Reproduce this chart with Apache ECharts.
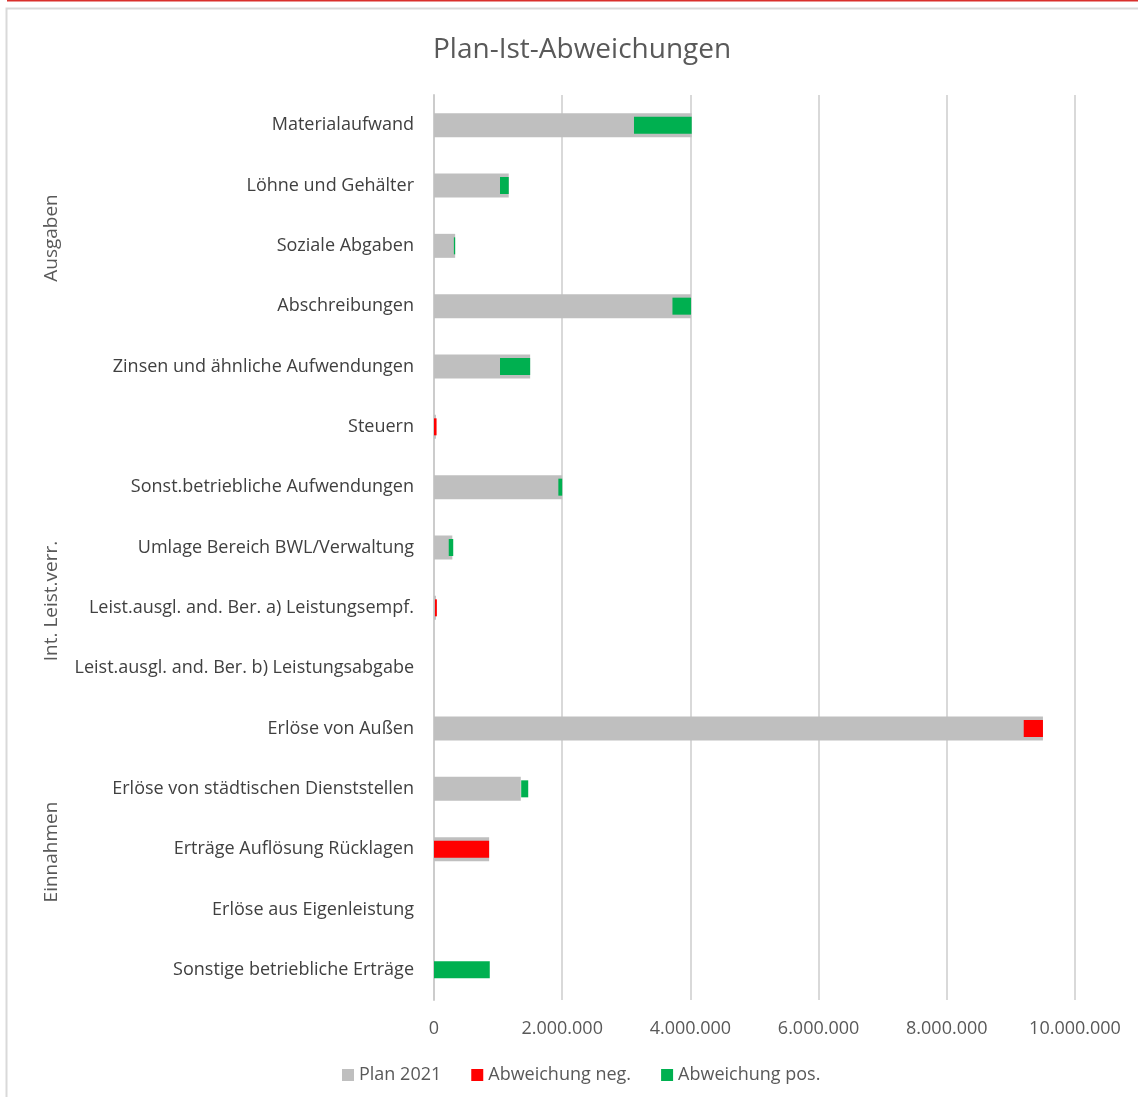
<!DOCTYPE html>
<html>
<head>
<meta charset="utf-8">
<script src="https://cdn.jsdelivr.net/npm/echarts@6/dist/echarts.min.js"></script>
<style>
html,body{margin:0;padding:0;background:#fff;}
#main{width:1138px;height:1097px;}
</style>
</head>
<body>
<div id="main"></div>
<script>
var categories = ['Materialaufwand', 'Löhne und Gehälter', 'Soziale Abgaben', 'Abschreibungen',
	'Zinsen und ähnliche Aufwendungen', 'Steuern', 'Sonst.betriebliche Aufwendungen',
	'Umlage Bereich BWL/Verwaltung', 'Leist.ausgl. and. Ber. a) Leistungsempf.',
	'Leist.ausgl. and. Ber. b) Leistungsabgabe', 'Erlöse von Außen',
	'Erlöse von städtischen Dienststellen', 'Erträge Auflösung Rücklagen',
	'Erlöse aus Eigenleistung', 'Sonstige betriebliche Erträge'];
var plan = [4020000, 1166000, 330000, 4010000, 1500000, 30000, 2000000, 286000, 30000, 0, 9500000, 1354000, 860000, 0, 0];
// unsichtbarer Sockel fuer die Abweichungen
var base = [3120000, 1030000, 310000, 3720000, 1030000, 0, 1940000, 230000, 15000, 0, 9200000, 1360000, 0, 0, 0];
var neg = [0, 0, 0, 0, 0, 40000, 0, 0, 30000, 0, 300000, 0, 860000, 0, 0];
var pos = [900000, 136000, 20000, 290000, 470000, 0, 60000, 70000, 0, 0, 0, 110000, 0, 0, 870000];
var groups = ['Ausgaben', 'Int. Leist.verr.', 'Einnahmen'];
var groupY = [238, 601, 852];

var font = '"Open Sans", sans-serif';
var chart = echarts.init(document.getElementById('main'));

function fmt(v){
	return String(v).replace(/\B(?=(\d{3})+(?!\d))/g, '.');
}

var graphics = [{
	type: 'line', shape: {x1: 7, y1: 0.5, x2: 1138, y2: 0.5},
	style: {stroke: '#d9302c', lineWidth: 2}
}, {
	type: 'rect', shape: {x: 6.5, y: 8.5, width: 1140, height: 1100},
	style: {fill: 'none', stroke: '#d9d9d9', lineWidth: 2}
}];
for (var i = 0; i < groups.length; i++) {
	graphics.push({
		type: 'text', x: 52, y: groupY[i], rotation: Math.PI / 2,
		style: {text: groups[i], font: '19px ' + font, fill: '#595959', align: 'center', verticalAlign: 'middle'}
	});
}

var option = {
	animation: false,
	title: {
		text: 'Plan-Ist-Abweichungen', left: 428, top: 31,
		textStyle: {fontFamily: font, fontSize: 28, fontWeight: 'normal', color: '#595959'}
	},
	legend: {
		bottom: 8, left: 337, icon: 'rect', itemWidth: 12, itemHeight: 12, itemGap: 30,
		data: ['Plan 2021', 'Abweichung neg.', 'Abweichung pos.'],
		textStyle: {fontFamily: font, fontSize: 18, color: '#595959'}
	},
	grid: {left: 434, right: 63, top: 95, height: 905},
	xAxis: {
		type: 'value', min: 0, max: 10000000, interval: 2000000,
		axisLine: {show: false}, axisTick: {show: false},
		axisLabel: {fontFamily: font, fontSize: 18, color: '#595959', margin: 20, formatter: fmt},
		splitLine: {lineStyle: {color: '#d9d9d9', width: 2}}
	},
	yAxis: [{
		type: 'category', data: categories, inverse: true,
		axisLine: {lineStyle: {color: '#cccccc', width: 2}}, axisTick: {show: false},
		axisLabel: {fontFamily: font, fontSize: 18, color: '#404040', margin: 20}
	}, {
		type: 'category', data: categories, inverse: true, position: 'left',
		axisLine: {show: false}, axisTick: {show: false}, axisLabel: {show: false}
	}],
	series: [{
		name: 'Plan 2021', type: 'bar', yAxisIndex: 0, barWidth: 24, data: plan,
		itemStyle: {color: '#bfbfbf'}
	}, {
		name: 'base', type: 'bar', yAxisIndex: 1, stack: 'd', barWidth: 17, data: base,
		itemStyle: {color: 'rgba(0,0,0,0)'}, silent: true
	}, {
		name: 'Abweichung neg.', type: 'bar', yAxisIndex: 1, stack: 'd', barWidth: 17, data: neg,
		itemStyle: {color: '#ff0000'}
	}, {
		name: 'Abweichung pos.', type: 'bar', yAxisIndex: 1, stack: 'd', barWidth: 17, data: pos,
		itemStyle: {color: '#00b050'}
	}],
	graphic: graphics
};
chart.setOption(option);
</script>
</body>
</html>
